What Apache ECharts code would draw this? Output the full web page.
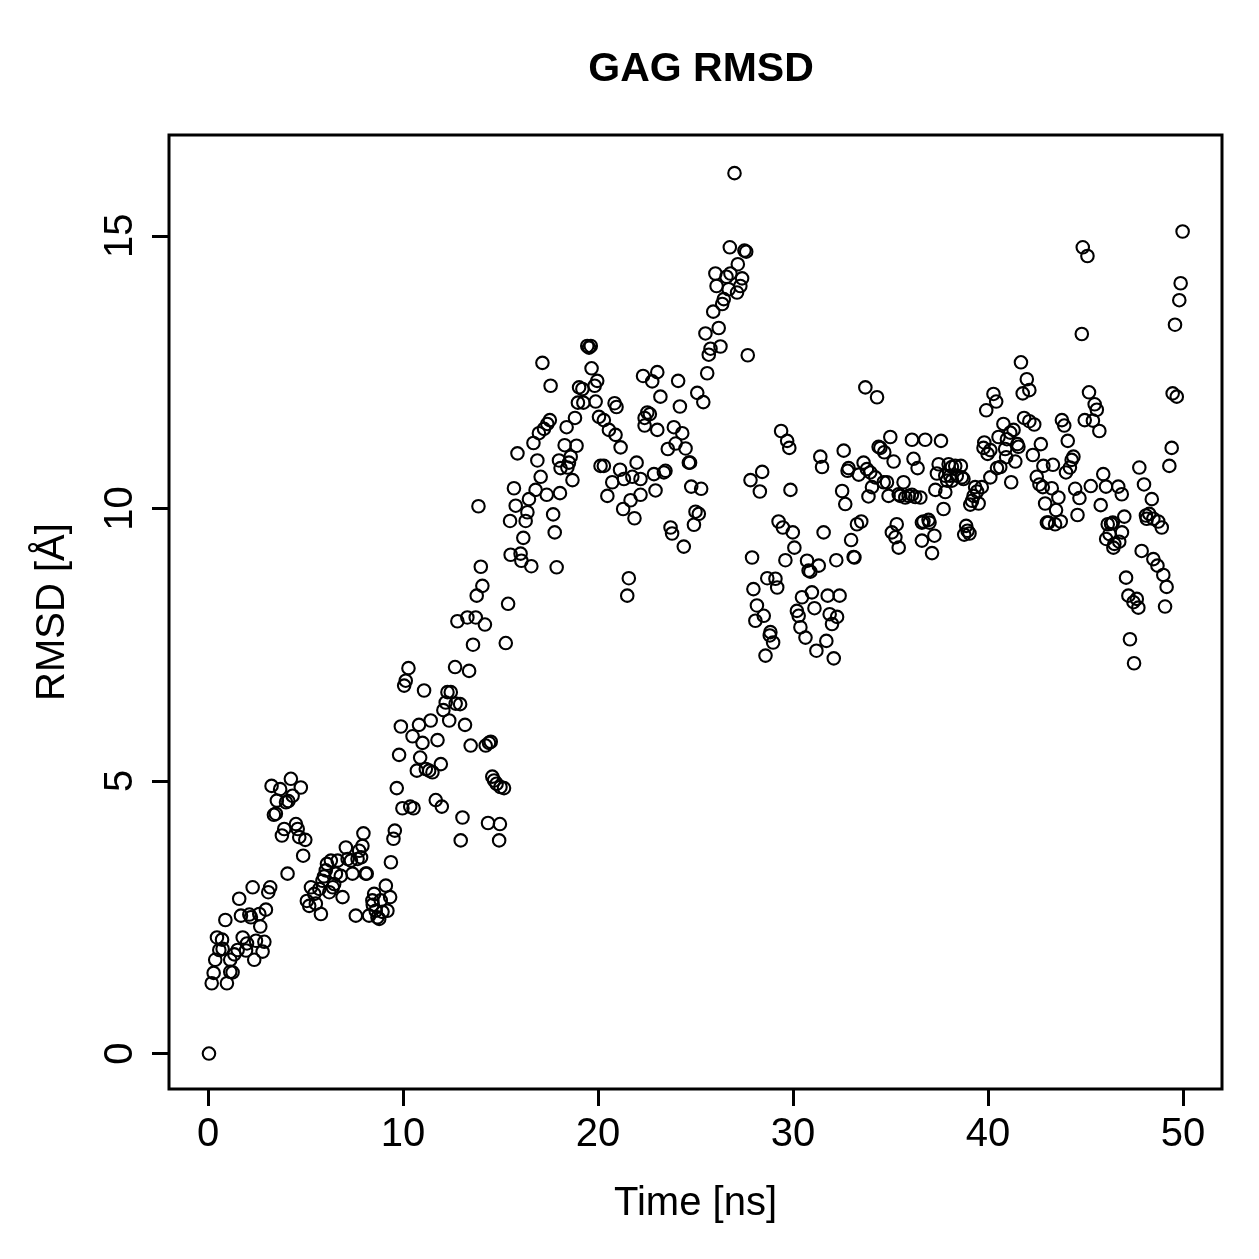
<!DOCTYPE html>
<html>
<head>
<meta charset="utf-8">
<script src="https://cdn.jsdelivr.net/npm/echarts@6/dist/echarts.min.js"></script>
<style>
  html, body { margin: 0; padding: 0; background: #fff; }
  #chart { width: 1259px; height: 1259px; }
</style>
</head>
<body>
<div id="chart"></div>
<script>
const chartTitle = 'GAG RMSD';
const xAxisName = 'Time [ns]';
const yAxisName = 'RMSD [Å]';
const xTicks = [0, 10, 20, 30, 40, 50];
const yTicks = [0, 5, 10, 15];

// [time (ns), RMSD (Å)]
const seg0to10 = [
  [0.05,0.0],[0.19,1.29],[0.29,1.48],[0.37,1.72],[0.46,2.13],[0.58,1.90],[0.72,2.09],[0.75,1.92],[0.89,2.45],[0.97,1.29],
  [1.14,1.50],[1.26,1.49],[1.14,1.72],[1.35,1.82],[1.52,1.90],[1.60,2.84],[1.69,2.53],[1.78,2.13],[1.95,1.89],[2.00,2.02],
  [2.12,2.55],[2.20,2.50],[2.29,3.05],[2.37,1.72],[2.46,2.07],[2.63,2.56],[2.68,2.33],[2.80,1.87],[2.89,2.05],[2.97,2.64],
  [3.09,2.96],[3.19,3.05],[3.26,4.91],[3.38,4.38],[3.48,4.40],[3.53,4.64],[3.70,4.85],[3.79,4.00],[3.91,4.12],[4.00,4.61],
  [4.08,3.30],[4.12,4.63],[4.25,5.04],[4.34,4.73],[4.51,4.21],[4.60,4.12],[4.68,3.97],[4.76,4.88],[4.88,3.63],[4.99,3.92],
  [5.07,2.80],[5.19,2.71],[5.28,3.05],[5.45,2.93],[5.53,2.75],[5.71,3.02],[5.79,2.56],[5.87,3.17],[5.95,3.25],[6.04,3.36],
  [6.10,3.48],[6.22,2.96],[6.30,3.54],[6.40,3.05],[6.47,3.11],[6.56,3.30],[6.65,3.54],[6.81,3.26],[6.90,2.87],[7.07,3.78],
  [7.16,3.57],[7.33,3.54],[7.41,3.30],[7.58,2.53],[7.67,3.57],[7.75,3.72],[7.85,3.60],[7.92,3.81],[7.97,4.04],[8.09,3.30],
  [8.14,3.30],[8.26,2.53],[8.43,2.81],[8.45,2.73],[8.52,2.93],[8.60,2.62],[8.69,2.50],[8.78,2.47],[8.86,2.81],[8.95,2.60],
  [9.12,3.08],[9.20,2.62],[9.34,2.87],[9.38,3.51],[9.51,3.94],[9.58,4.09],[9.68,4.87],[9.80,5.48],[9.89,6.00],[9.97,4.50]
];
const seg10to16 = [
  [10.06,6.75],[10.14,6.84],[10.28,7.07],[10.37,4.53],[10.49,5.82],[10.54,4.50],[10.71,5.19],[10.82,6.03],[10.88,5.43],[11.00,5.70],
  [11.08,6.66],[11.17,5.22],[11.34,5.19],[11.42,6.11],[11.51,5.16],[11.68,4.65],[11.77,5.75],[11.94,5.31],[11.99,4.53],[12.07,6.30],
  [12.19,6.44],[12.28,6.63],[12.37,6.11],[12.45,6.63],[12.67,7.09],[12.70,6.42],[12.79,7.93],[12.93,6.41],[12.96,3.91],[13.05,4.33],
  [13.18,6.03],[13.30,8.00],[13.39,7.02],[13.47,5.65],[13.59,7.50],[13.73,8.00],[13.78,8.40],[13.87,10.04],[13.99,8.93],[14.07,8.58],
  [14.20,7.87],[14.24,5.65],[14.36,4.23],[14.41,5.70],[14.50,5.72],[14.58,5.08],[14.67,5.01],[14.80,4.95],[14.93,3.91],[14.97,4.21],
  [15.00,4.89],[15.18,4.87],[15.27,7.53],[15.39,8.25],[15.49,9.77],[15.52,9.15],[15.69,10.37],[15.78,10.05],[15.87,11.01],[16.03,9.17],
  [16.07,9.04],[16.17,9.46],[16.29,9.77],[16.38,9.93],[16.46,10.17],[16.58,8.94]
];
const seg16to23 = [
  [16.69,11.20],[16.80,10.34],[16.89,10.88],[16.97,11.38],[17.06,10.58],[17.15,12.67],[17.23,11.46],[17.37,10.25],[17.40,11.55],[17.53,11.62],
  [17.57,12.25],[17.70,9.89],[17.78,9.56],[17.88,8.92],[18.00,10.88],[18.05,10.28],[18.08,10.74],[18.29,11.16],[18.39,11.49],[18.43,10.75],
  [18.51,10.84],[18.60,10.95],[18.69,10.52],[18.82,11.66],[18.90,11.15],[18.97,11.94],[19.03,12.22],[19.20,12.19],[19.25,11.94],[19.45,12.98],
  [19.54,12.95],[19.63,12.98],[19.67,12.57],[19.83,12.25],[19.88,11.96],[19.96,12.34],[20.05,11.68],[20.13,10.78],[20.30,10.78],[20.30,11.62],
  [20.48,10.23],[20.56,11.44],[20.73,10.48],[20.85,11.93],[20.90,11.35],[20.95,11.86],[21.13,10.71],[21.16,11.12],[21.29,9.99],[21.33,10.54],
  [21.50,8.40],[21.58,8.72],[21.67,10.15],[21.76,10.58],[21.87,9.82],[21.98,10.84],[22.18,10.54],[22.18,10.25],[22.31,12.43],[22.39,11.66],
  [22.39,11.52],[22.53,11.76],[22.66,11.73],[22.78,12.33],[22.87,10.63],[22.95,10.33],[23.04,12.50],[23.04,11.44],[23.20,12.05]
];
const seg23to35 = [
  [23.38,10.66],[23.46,10.69],[23.58,11.09],[23.72,9.65],[23.80,9.54],[23.89,11.49],[23.98,11.19],[24.11,12.34],[24.20,11.87],[24.32,11.38],
  [24.40,9.30],[24.49,11.10],[24.66,10.84],[24.72,10.84],[24.78,10.40],[24.92,9.70],[25.00,9.94],[25.09,12.12],[25.17,9.90],[25.29,10.36],
  [25.40,11.95],[25.51,13.21],[25.60,12.48],[25.68,12.82],[25.77,12.93],[25.91,13.61],[26.02,14.31],[26.08,14.08],[26.19,13.31],[26.28,12.97],
  [26.37,13.75],[26.45,13.84],[26.59,14.25],[26.70,14.02],[26.76,14.79],[26.79,14.31],[27.00,16.15],[27.13,13.96],[27.17,14.48],[27.30,14.08],
  [27.39,14.22],[27.51,14.73],[27.60,14.71],[27.68,12.81],[27.82,10.52],[27.90,9.10],[27.97,8.52],[28.07,7.94],[28.15,8.22],[28.30,10.31],
  [28.42,10.67],[28.50,8.03],[28.59,7.30],[28.68,8.72],[28.81,7.67],[28.84,7.73],[28.98,7.54],[29.10,8.71],[29.19,8.55],[29.26,9.76],
  [29.39,11.42],[29.48,9.65],[29.61,9.05],[29.70,11.24],[29.81,11.11],[29.87,10.34],[29.99,9.56],[30.07,9.28],[30.20,8.12],[30.29,8.03],
  [30.38,7.82],[30.46,8.37],[30.64,7.63],[30.72,9.04],[30.80,8.86],[30.89,8.84],[30.97,8.46],[31.10,8.17],[31.20,7.39],[31.32,8.95],
  [31.40,10.95],[31.49,10.76],[31.57,9.56],[31.71,7.57],[31.78,8.40],[31.88,8.06],[32.00,7.88],[32.09,7.25],[32.22,9.05],[32.26,8.01],
  [32.39,8.40],[32.52,10.32],[32.60,11.06],[32.68,10.08],[32.80,10.69],[32.85,10.74],[32.98,9.42],[33.11,9.11],[33.15,9.10],[33.28,9.71],
  [33.37,10.62],[33.50,9.76],[33.62,10.84],[33.71,12.22],[33.79,10.72],[33.87,10.22],[33.96,10.66],[34.05,10.39],[34.22,10.57],[34.31,12.04],
  [34.39,11.13],[34.48,11.11],[34.65,10.48],[34.68,11.03],[34.82,10.48],[34.90,10.23],[34.99,11.31],[35.07,9.56],[35.16,10.86],[35.25,9.47],
  [35.32,9.71],[35.42,9.28],[35.42,10.26]
];
const seg35to43 = [
  [35.50,10.23],[35.67,10.48],[35.76,10.20],[35.93,10.23],[36.10,10.25],[36.10,11.26],[36.18,10.91],[36.27,10.21],[36.39,10.74],[36.53,10.20],
  [36.61,9.74],[36.61,9.41],[36.69,9.76],[36.78,11.26],[36.95,9.79],[37.00,9.74],[37.13,9.18],[37.25,9.50],[37.30,10.34],[37.38,10.64],
  [37.47,10.81],[37.59,11.24],[37.72,9.99],[37.81,10.30],[37.81,10.60],[37.90,10.51],[37.98,10.81],[38.06,10.60],[38.15,10.76],[38.15,10.51],
  [38.32,10.78],[38.40,10.60],[38.61,10.78],[38.66,10.57],[38.74,10.54],[38.78,9.52],[38.88,9.68],[38.95,9.59],[39.05,9.54],[39.09,10.07],
  [39.18,10.14],[39.26,10.23],[39.34,10.39],[39.44,10.31],[39.52,10.09],[39.68,10.39],[39.77,11.11],[39.81,11.21],[39.91,11.80],[39.98,11.00],
  [40.12,11.07],[40.12,10.57],[40.28,12.10],[40.42,11.96],[40.46,10.74],[40.54,11.31],[40.63,10.76],[40.79,11.55],[40.88,11.09],[40.93,10.94],
  [40.97,11.27],[41.14,11.39],[41.19,10.48],[41.31,11.44],[41.40,10.86],[41.51,11.18],[41.56,11.13],[41.69,12.68],[41.78,12.11],[41.85,11.66],
  [41.99,12.37],[42.12,12.17],[42.12,11.60],[42.30,10.98],[42.37,11.54],[42.50,10.58],[42.64,10.44],[42.71,11.18],[42.81,10.39],[42.84,10.78],
  [42.93,10.09],[43.02,9.74]
];
const seg43to50 = [
  [43.10,9.74],[43.27,10.37],[43.33,10.80],[43.44,9.71],[43.49,9.97],[43.61,10.20],[43.73,9.76],[43.79,11.62],[43.91,11.52],[44.00,10.66],
  [44.09,11.24],[44.20,10.75],[44.29,10.89],[44.38,10.95],[44.47,10.36],[44.59,9.88],[44.69,10.19],[44.81,13.20],[44.86,14.79],[44.96,11.62],
  [45.10,14.63],[45.18,12.13],[45.27,10.41],[45.38,11.61],[45.47,11.91],[45.58,11.81],[45.71,11.42],[45.78,10.06],[45.91,10.63],[46.05,10.40],
  [46.06,9.44],[46.14,9.71],[46.23,9.53],[46.31,9.72],[46.40,9.74],[46.43,9.28],[46.48,9.35],[46.68,10.40],[46.73,9.39],[46.86,10.26],
  [46.87,9.56],[46.99,9.85],[47.08,8.73],[47.20,8.40],[47.28,7.60],[47.46,8.28],[47.49,7.16],[47.63,8.34],[47.71,8.18],[47.76,10.75],
  [47.88,9.22],[48.00,10.44],[48.10,9.87],[48.14,9.81],[48.27,9.90],[48.40,10.17],[48.48,9.81],[48.48,9.07],[48.69,8.95],[48.73,9.76],
  [48.91,9.65],[48.99,8.78],[49.08,8.20],[49.16,8.56],[49.30,10.78],[49.42,11.11],[49.47,12.11],[49.59,13.37],[49.68,12.05],[49.81,13.82],
  [49.88,14.13],[49.98,15.08]
];

const allPoints = [].concat(seg0to10, seg10to16, seg16to23, seg23to35, seg35to43, seg43to50);

const FONT = '"Liberation Sans", Arial, Helvetica, sans-serif';
const chart = echarts.init(document.getElementById('chart'), null, { renderer: 'canvas' });
chart.setOption({
  animation: false,
  backgroundColor: '#ffffff',
  title: {
    text: chartTitle,
    left: 696,
    textAlign: 'center',
    top: 44,
    textStyle: { fontFamily: FONT, fontWeight: 'bold', fontSize: 41, color: '#000' }
  },
  grid: {
    left: 169, right: 37, top: 135, bottom: 170,
    show: true, borderColor: '#000', borderWidth: 3, backgroundColor: 'transparent'
  },
  xAxis: {
    type: 'value', min: -2, max: 52,
    name: xAxisName, nameLocation: 'middle', nameGap: 95,
    nameTextStyle: { fontFamily: FONT, fontSize: 40, color: '#000' },
    axisLine: { show: false, onZero: false },
    splitLine: { show: false },
    axisTick: { show: true, inside: false, length: 17, customValues: xTicks, lineStyle: { color: '#000', width: 3 } },
    axisLabel: { show: true, margin: 26, customValues: xTicks, fontFamily: FONT, fontSize: 40, color: '#000' }
  },
  yAxis: {
    type: 'value', min: -0.65, max: 16.85,
    name: yAxisName, nameLocation: 'middle', nameGap: 96,
    nameTextStyle: { fontFamily: FONT, fontSize: 40, color: '#000' },
    axisLine: { show: false, onZero: false },
    splitLine: { show: false },
    axisTick: { show: true, inside: false, length: 17, customValues: yTicks, lineStyle: { color: '#000', width: 3 } },
    axisLabel: { show: true, rotate: 90, margin: 28, customValues: yTicks, fontFamily: FONT, fontSize: 40, color: '#000' }
  },
  series: [{
    type: 'scatter',
    data: allPoints,
    symbol: 'circle',
    symbolSize: 12.5,
    itemStyle: { color: 'rgba(0,0,0,0)', borderColor: '#000', borderWidth: 2.1, opacity: 1 },
    emphasis: { disabled: true },
    silent: true
  }]
});
</script>
</body>
</html>
